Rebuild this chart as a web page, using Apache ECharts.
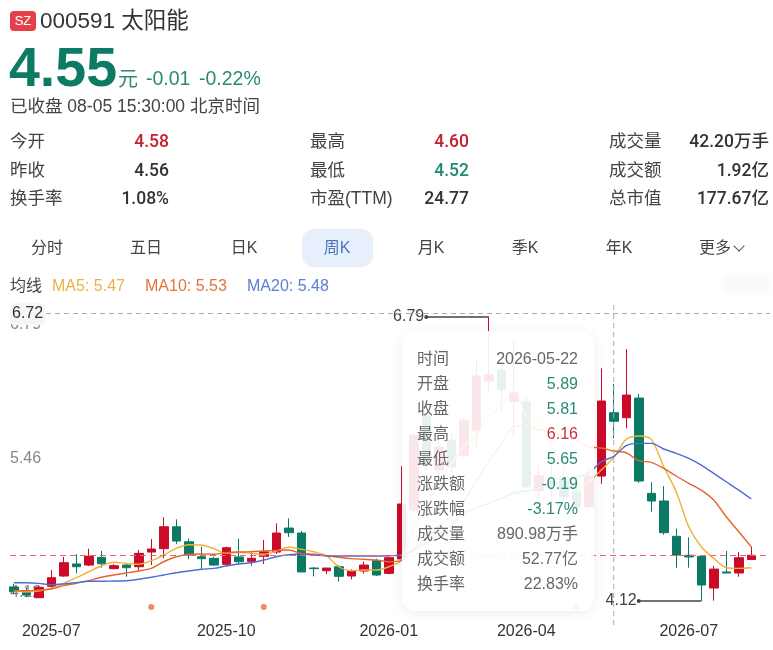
<!DOCTYPE html>
<html lang="zh">
<head>
<meta charset="utf-8">
<title>000591 太阳能 周K</title>
<script src="https://cdn.jsdelivr.net/npm/echarts@6/dist/echarts.min.js"></script>
<style>
html,body{margin:0;padding:0;width:773px;height:650px;overflow:hidden;background:#fff}
body{font-family:"Liberation Sans","Noto Sans CJK SC",sans-serif;color:#444}
#chart{position:absolute;left:0;top:0;width:773px;height:650px}
.t{position:absolute;white-space:nowrap;line-height:1;transform:translateY(-50%);z-index:2}
.r{transform:translate(-100%,-50%)}
.c{transform:translate(-50%,-50%)}
.n{font-family:Roboto,"Liberation Sans","Noto Sans CJK SC",sans-serif;font-weight:500;font-size:17.5px}
.l{font-size:17.5px;color:#444}
#tab{position:absolute;left:302px;top:229px;width:71px;height:38px;border-radius:12px;background:#e6effb;z-index:1}
#badge{position:absolute;left:10px;top:11px;width:26px;height:20px;border-radius:4px;background:#e5404a;color:#fff;font-size:13px;line-height:20px;text-align:center;z-index:2}
#chev{position:absolute;left:735px;top:242px;width:7px;height:7px;border-right:1.3px solid #555;border-bottom:1.3px solid #555;transform:rotate(45deg);z-index:2}
#smudge{position:absolute;left:722px;top:274px;width:48px;height:20px;background:#fafafa;filter:blur(2px);z-index:1}
</style>
</head>
<body>
<div id="chart"></div>
<div id="badge">SZ</div>
<div class="t" style="left:40px;top:21px;font-size:22.5px;color:#333">000591 太阳能</div>
<div class="t" style="left:9px;top:68px;font-size:55.5px;font-weight:700;color:#0d7a63">4.55</div>
<div class="t" style="left:118px;top:79px;font-size:20px;color:#2a8a76">元</div>
<div class="t" style="left:146px;top:79px;font-size:19.5px;color:#2a8a76">-0.01</div>
<div class="t" style="left:199px;top:79px;font-size:19.5px;color:#2a8a76">-0.22%</div>
<div class="t" style="left:10px;top:107px;font-size:17.5px;color:#444">已收盘 08-05 15:30:00 北京时间</div>

<div class="t l" style="left:10px;top:142px">今开</div>
<div class="t n r" style="left:169px;top:142px;color:#c6202f">4.58</div>
<div class="t l" style="left:10px;top:171px">昨收</div>
<div class="t n r" style="left:169px;top:171px;color:#333">4.56</div>
<div class="t l" style="left:10px;top:199px">换手率</div>
<div class="t n r" style="left:169px;top:199px;color:#333">1.08%</div>

<div class="t l" style="left:310px;top:142px">最高</div>
<div class="t n r" style="left:469px;top:142px;color:#c6202f">4.60</div>
<div class="t l" style="left:310px;top:171px">最低</div>
<div class="t n r" style="left:469px;top:171px;color:#1e8a72">4.52</div>
<div class="t l" style="left:310px;top:199px">市盈(TTM)</div>
<div class="t n r" style="left:469px;top:199px;color:#333">24.77</div>

<div class="t l" style="left:609px;top:142px">成交量</div>
<div class="t n r" style="left:769px;top:142px;color:#333">42.20万手</div>
<div class="t l" style="left:609px;top:171px">成交额</div>
<div class="t n r" style="left:769px;top:171px;color:#333">1.92亿</div>
<div class="t l" style="left:609px;top:199px">总市值</div>
<div class="t n r" style="left:769px;top:199px;color:#333">177.67亿</div>

<div id="tab"></div>
<div class="t c" style="left:47px;top:248px;font-size:16px">分时</div>
<div class="t c" style="left:146px;top:248px;font-size:16px">五日</div>
<div class="t c" style="left:244px;top:248px;font-size:16px">日K</div>
<div class="t c" style="left:337px;top:248px;font-size:16px;color:#4c76c4">周K</div>
<div class="t c" style="left:431px;top:248px;font-size:16px">月K</div>
<div class="t c" style="left:525px;top:248px;font-size:16px">季K</div>
<div class="t c" style="left:619px;top:248px;font-size:16px">年K</div>
<div class="t c" style="left:715px;top:248px;font-size:16px">更多</div>
<div id="chev"></div>
<div id="smudge"></div>

<div class="t" style="left:10px;top:286px;font-size:16px">均线</div>
<div class="t" style="left:52px;top:286px;font-size:16px;color:#ecb245">MA5: 5.47</div>
<div class="t" style="left:145px;top:286px;font-size:16px;color:#e0763a">MA10: 5.53</div>
<div class="t" style="left:247px;top:286px;font-size:16px;color:#5a7fd0">MA20: 5.48</div>

<script>
var categories = ["2025-06-20","2025-06-27","2025-07-04","2025-07-11","2025-07-18","2025-07-25","2025-08-01","2025-08-08","2025-08-15","2025-08-22","2025-08-29","2025-09-05","2025-09-12","2025-09-19","2025-09-26","2025-10-03","2025-10-10","2025-10-17","2025-10-24","2025-10-31","2025-11-07","2025-11-14","2025-11-21","2025-11-28","2025-12-05","2025-12-12","2025-12-19","2025-12-26","2026-01-02","2026-01-09","2026-01-16","2026-01-23","2026-01-30","2026-02-06","2026-02-13","2026-02-20","2026-02-27","2026-03-06","2026-03-13","2026-03-20","2026-03-27","2026-04-03","2026-04-10","2026-04-17","2026-04-24","2026-05-01","2026-05-08","2026-05-15","2026-05-22","2026-05-29","2026-06-05","2026-06-12","2026-06-19","2026-06-26","2026-07-03","2026-07-10","2026-07-17","2026-07-24","2026-07-31","2026-08-05",""];
var open  = [4.252,4.198,4.151,4.258,4.355,4.468,4.458,4.53,4.424,4.458,4.442,4.58,4.612,4.818,4.677,4.536,4.521,4.465,4.534,4.493,4.54,4.58,4.806,4.759,4.43,4.405,4.442,4.355,4.402,4.499,4.38,4.515,4.975,5.859,5.351,5.633,5.49,5.72,6.19,6.29,5.993,5.993,5.16,5.26,5.27,5.15,5.006,5.295,5.89,5.843,6.028,5.132,5.06,4.728,4.55,4.54,4.242,4.393,4.383,4.51];
var close = [4.207,4.176,4.249,4.339,4.48,4.442,4.54,4.47,4.452,4.433,4.568,4.609,4.818,4.684,4.552,4.518,4.458,4.621,4.489,4.521,4.583,4.759,4.762,4.393,4.424,4.43,4.352,4.402,4.458,4.364,4.527,5.032,5.68,5.398,5.567,5.38,5.82,6.235,6.247,6.11,6.078,5.194,5.3,5.22,5.1,5.0,5.29,6.0,5.81,6.056,5.248,5.06,4.762,4.552,4.534,4.27,4.42,4.383,4.527,4.55];
var low   = [4.186,4.155,4.151,4.239,4.348,4.38,4.449,4.433,4.418,4.348,4.405,4.458,4.521,4.653,4.512,4.411,4.452,4.455,4.465,4.452,4.468,4.562,4.722,4.393,4.352,4.374,4.301,4.324,4.377,4.355,4.371,4.505,4.95,5.35,5.3,5.33,5.47,5.57,6.087,5.9,5.664,5.18,5.1,5.1,5.05,4.95,4.98,5.222,5.65,5.743,5.232,4.96,4.743,4.433,4.433,4.12,4.123,4.383,4.348,4.51];
var high  = [4.28,4.245,4.267,4.411,4.534,4.559,4.612,4.59,4.468,4.474,4.6,4.703,4.907,4.888,4.709,4.63,4.536,4.63,4.705,4.578,4.693,4.85,4.897,4.778,4.44,4.43,4.456,4.418,4.489,4.518,4.536,5.386,5.7,5.88,5.65,5.7,5.84,6.385,6.79,6.417,6.573,6.04,5.42,5.45,5.4,5.3,5.38,6.307,6.16,6.488,6.068,5.236,5.2,4.8,4.719,4.54,4.449,4.59,4.58,4.63];
var ma5  = [4.217,4.207,4.214,4.239,4.286,4.339,4.395,4.449,4.484,4.474,4.465,4.499,4.552,4.615,4.649,4.646,4.612,4.568,4.578,4.568,4.559,4.59,4.625,4.606,4.583,4.546,4.442,4.405,4.411,4.411,4.442,4.505,4.81,5.0,5.24,5.41,5.57,5.68,5.85,5.96,6.1,5.86,5.79,5.58,5.38,5.16,5.241,5.351,5.47,5.64,5.671,5.64,5.382,5.147,4.818,4.63,4.521,4.433,4.427,4.433];
var ma10 = [4.217,4.217,4.223,4.233,4.264,4.286,4.311,4.343,4.364,4.383,4.402,4.427,4.489,4.536,4.559,4.562,4.559,4.574,4.581,4.583,4.59,4.596,4.599,4.568,4.559,4.546,4.531,4.518,4.512,4.505,4.489,4.499,4.61,4.71,4.82,4.92,5.06,5.25,5.43,5.6,5.76,5.77,5.73,5.71,5.67,5.63,5.57,5.558,5.53,5.514,5.439,5.424,5.367,5.295,5.226,5.163,5.069,4.912,4.771,4.63];
var ma20 = [4.292,4.292,4.286,4.273,4.28,4.292,4.305,4.305,4.308,4.311,4.324,4.343,4.364,4.386,4.402,4.418,4.427,4.449,4.468,4.48,4.505,4.536,4.555,4.562,4.552,4.546,4.543,4.543,4.543,4.543,4.546,4.552,4.599,4.665,4.74,4.834,4.947,4.994,5.041,5.088,5.135,5.154,5.182,5.21,5.248,5.285,5.323,5.429,5.48,5.58,5.602,5.602,5.549,5.508,5.461,5.398,5.32,5.241,5.163,5.079];
var yLabels = [4.12,5.46,6.79];
var xLabelIndex = [3,17,30,41,54];
var eventIndex = [11,20,45];
var eventLevel = 4.064;
var lastPrice = 4.55;
var hoverIndex = 48;
var hoverLabel = "6.72";
var tipLabels = ["时间","开盘","收盘","最高","最低","涨跌额","涨跌幅","成交量","成交额","换手率"];
var tipValues = ["2026-05-22","5.89","5.81","6.16","5.65","-0.19","-3.17%","890.98万手","52.77亿","22.83%"];
var tipColors = ["#666","#2b8a76","#2b8a76","#c8303f","#2b8a76","#2b8a76","#2b8a76","#666","#666","#666"];

var chart = echarts.init(document.getElementById('chart'));
var font = '"Liberation Sans","Noto Sans CJK SC",sans-serif';
var candle = open.map(function(o,i){return [o,close[i],low[i],high[i]];});
var events = eventIndex.map(function(i){return [categories[i],eventLevel];});
function maSeries(name,data,color){
  return {name:name,type:'line',data:data,smooth:0.3,showSymbol:false,clip:false,silent:true,
    lineStyle:{width:1.4,color:color},itemStyle:{color:color},z:3};
}
var extreme = {show:true,position:'start',color:'#444',fontSize:16,fontFamily:font,distance:2};
chart.setOption({
  animation:false,
  backgroundColor:'transparent',
  grid:{left:7.5,width:762.5,top:317,height:284,containLabel:false},
  tooltip:{
    trigger:'item',triggerOn:'none',alwaysShowContent:true,showContent:true,transitionDuration:0,
    axisPointer:{type:'none'},
    position:function(){return [402,331];},
    backgroundColor:'rgba(255,255,255,0.9)',borderWidth:0,padding:[15,16,15,15],
    extraCssText:'width:192px;height:280px;box-sizing:border-box;border-radius:14px;box-shadow:0 2px 14px rgba(0,0,0,.07);',
    formatter:function(){
      return tipLabels.map(function(l,i){
        return '<div style="display:flex;justify-content:space-between;height:25px;line-height:25px;font-size:16px;font-family:'+font.replace(/"/g,"'")+'">'+
        '<span style="color:#666">'+l+'</span><span style="color:'+tipColors[i]+'">'+tipValues[i]+'</span></div>';
      }).join('');
    }
  },
  xAxis:{type:'category',data:categories,boundaryGap:true,
    axisLine:{show:false},axisTick:{show:false},splitLine:{show:false},axisPointer:{show:false},
    axisLabel:{interval:function(i){return xLabelIndex.indexOf(i)>=0;},
      formatter:function(v){return v.slice(0,7);},
      color:'#333',fontSize:16,fontFamily:font,margin:23}},
  yAxis:{type:'value',min:4.12,max:6.79,scale:true,
    axisLine:{show:false},axisTick:{show:false},splitLine:{show:false},axisPointer:{show:false},
    axisLabel:{inside:true,margin:2.5,customValues:yLabels,color:'#888',fontSize:16,fontFamily:font,
      verticalAlignMinLabel:'bottom',verticalAlignMaxLabel:'top',
      formatter:function(v){return v.toFixed(2);}}},
  series:[
    {name:'周K',type:'candlestick',data:candle,barWidth:9,clip:false,z:2,
      itemStyle:{color:'#cc0a2a',color0:'#0b7a64',borderColor:'#cc0a2a',borderColor0:'#0b7a64',borderWidth:1},
      markLine:{silent:true,animation:false,symbol:['circle','none'],symbolSize:4,z:2,
        lineStyle:{color:'#444',type:'solid',width:1.5},
        itemStyle:{color:'#333'},
        data:[
          [{coord:[categories[33],high[38]],label:Object.assign({formatter:high[38].toFixed(2)},extreme)},
           {coord:[categories[38],high[38]]}],
          [{coord:[categories[50],low[55]],label:Object.assign({formatter:low[55].toFixed(2)},extreme)},
           {coord:[categories[55],low[55]]}]
        ]}},
    maSeries('MA5',ma5,'#eeb13a'),
    maSeries('MA10',ma10,'#e5652e'),
    maSeries('MA20',ma20,'#4c6fce'),
    {name:'事件',type:'scatter',data:events,symbolSize:6,clip:false,silent:true,itemStyle:{color:'#f26b3c'},z:3}
  ]
});
var cx = chart.convertToPixel({xAxisIndex:0},categories[hoverIndex]);
var py = Math.floor(chart.convertToPixel({yAxisIndex:0},lastPrice))+0.5;
var dash = {stroke:'#aaa',lineWidth:1,lineDash:[5,4]};
chart.setOption({graphic:[
  {type:'line',silent:true,z:12,shape:{x1:10,y1:py,x2:770,y2:py},style:{stroke:'#f0646e',lineWidth:1,lineDash:[6,4]}},
  {type:'line',silent:true,z:10,shape:{x1:10,y1:313.5,x2:770,y2:313.5},style:dash},
  {type:'line',silent:true,z:10,shape:{x1:cx,y1:305,x2:cx,y2:626},style:dash},
  {type:'text',silent:true,z:11,left:10,top:303,
    style:{text:hoverLabel,fill:'#333',font:'16px '+font,backgroundColor:'#f6f6f6',borderRadius:4,padding:[3,3,3,2],width:30,height:16,lineHeight:16,verticalAlign:'top'}}
]});
chart.dispatchAction({type:'showTip',seriesIndex:0,dataIndex:hoverIndex});
</script>
</body>
</html>
